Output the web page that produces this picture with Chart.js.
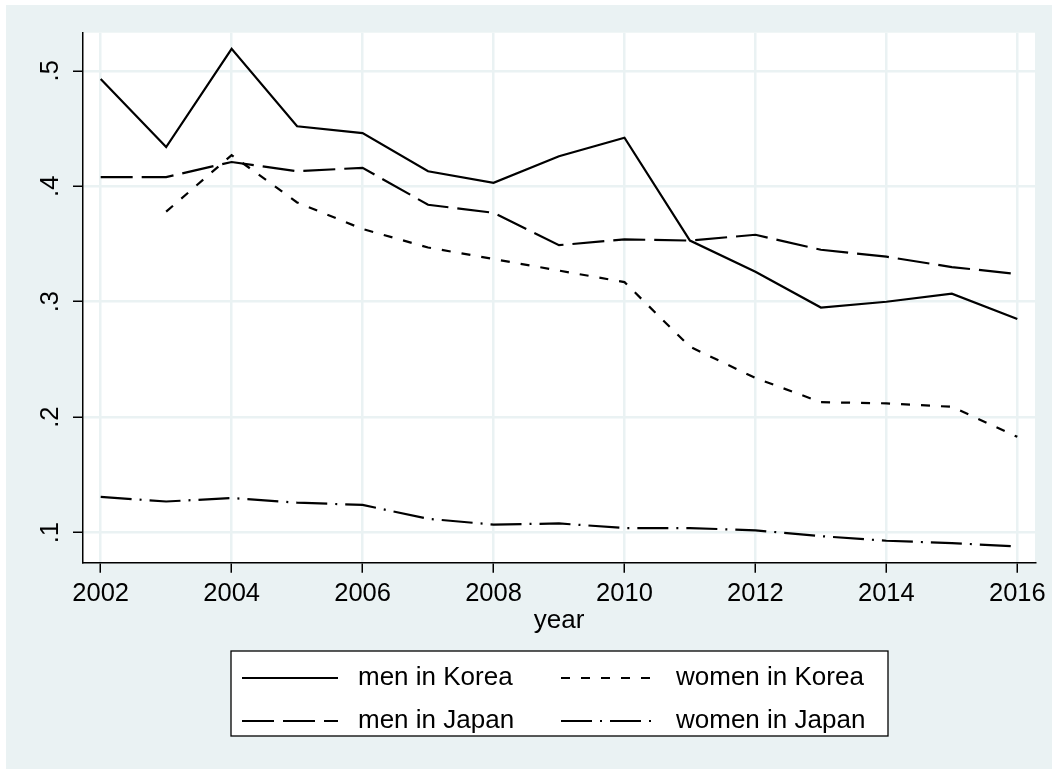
<!DOCTYPE html>
<html>
<head>
<meta charset="utf-8">
<script src="https://cdn.jsdelivr.net/npm/chart.js@4"></script>
<style>
  html, body { margin: 0; padding: 0; background: #fff; }
  canvas { display: block; }
</style>
</head>
<body>
<canvas id="chart" width="1052" height="769"></canvas>
<script>
// Share of workers, by year
const years = [2002, 2003, 2004, 2005, 2006, 2007, 2008, 2009, 2010, 2011, 2012, 2013, 2014, 2015, 2016];
const menKorea   = [0.493, 0.434, 0.519, 0.452, 0.446, 0.413, 0.403, 0.426, 0.442, 0.353, 0.326, 0.295, 0.300, 0.307, 0.285];
const womenKorea = [null,  0.378, 0.427, 0.386, 0.363, 0.347, 0.337, 0.327, 0.317, 0.261, 0.234, 0.213, 0.212, 0.209, 0.183];
const menJapan   = [0.408, 0.408, 0.421, 0.413, 0.416, 0.384, 0.377, 0.349, 0.354, 0.353, 0.358, 0.345, 0.339, 0.330, 0.324];
const womenJapan = [0.131, 0.127, 0.130, 0.126, 0.124, 0.112, 0.107, 0.108, 0.104, 0.104, 0.102, 0.097, 0.093, 0.091, 0.088];

const xTicks = [2002, 2004, 2006, 2008, 2010, 2012, 2014, 2016];
const yTicks = [0.1, 0.2, 0.3, 0.4, 0.5];
const yTickLabels = ['.1', '.2', '.3', '.4', '.5'];

const FONT = '"Liberation Sans", Arial, Helvetica, sans-serif';
const BG = '#eaf2f3';

const toPoints = arr => years.map((yr, i) => ({ x: yr, y: arr[i] }));

function series(label, arr, dash) {
    return {
        label: label,
        data: toPoints(arr),
        borderColor: '#000',
        borderWidth: 2.2,
        borderDash: dash,
        borderCapStyle: 'butt',
        pointRadius: 0,
        fill: false,
        tension: 0
    };
}

// graph region + white plot region behind everything
const backdrop = {
    id: 'backdrop',
    beforeDraw(chart) {
        const { ctx, chartArea } = chart;
        ctx.save();
        ctx.fillStyle = '#fff';
        ctx.fillRect(0, 0, chart.width, chart.height);
        ctx.fillStyle = BG;
        ctx.fillRect(6, 5, chart.width - 6, chart.height - 5);
        ctx.fillStyle = '#fff';
        ctx.fillRect(chartArea.left, chartArea.top, chartArea.right - chartArea.left, chartArea.bottom - chartArea.top);
        ctx.restore();
    }
};

// two-column boxed key under the axis title
const key = {
    id: 'key',
    afterDraw(chart) {
        const ctx = chart.ctx;
        const sets = chart.data.datasets;
        const cols = [{ x0: 242, x1: 338, tx: 358 }, { x0: 561, x1: 655, tx: 676 }];
        const rows = [678, 721];
        ctx.save();
        ctx.fillStyle = '#fff';
        ctx.fillRect(231, 651, 657, 85);
        ctx.strokeStyle = '#000';
        ctx.lineWidth = 1.3;
        ctx.strokeRect(231, 651, 657, 85);
        ctx.font = '26px ' + FONT;
        ctx.textBaseline = 'middle';
        ctx.textAlign = 'left';
        sets.forEach((ds, i) => {
            const c = cols[i % 2];
            const y = rows[Math.floor(i / 2)];
            ctx.beginPath();
            ctx.setLineDash(ds.borderDash || []);
            ctx.lineWidth = ds.borderWidth;
            ctx.strokeStyle = ds.borderColor;
            ctx.moveTo(c.x0, y);
            ctx.lineTo(c.x1, y);
            ctx.stroke();
            ctx.setLineDash([]);
            ctx.fillStyle = '#000';
            ctx.fillText(ds.label, c.tx, y);
        });
        ctx.restore();
    }
};

const ctx = document.getElementById('chart').getContext('2d');
new Chart(ctx, {
    type: 'line',
    data: {
        datasets: [
            series('men in Korea', menKorea, []),
            series('women in Korea', womenKorea, [9, 11]),
            series('men in Japan', menJapan, [32, 9]),
            series('women in Japan', womenJapan, [31, 8, 2, 8])
        ]
    },
    options: {
        responsive: false,
        animation: false,
        devicePixelRatio: 1,
        layout: { padding: { left: 0, top: 32.7, right: 17, bottom: 126.3 } },
        plugins: {
            legend: { display: false },
            tooltip: { enabled: false }
        },
        scales: {
            x: {
                type: 'linear',
                position: 'bottom',
                min: 2001.73,
                max: 2016.27,
                afterBuildTicks: s => { s.ticks = xTicks.map(v => ({ value: v })); },
                afterFit: s => { s.height = 80; },
                ticks: {
                    color: '#000',
                    font: { family: FONT, size: 25.5 },
                    padding: 6,
                    maxRotation: 0,
                    autoSkip: false,
                    callback: v => String(v)
                },
                grid: { color: BG, lineWidth: 2.5, tickColor: '#000', tickWidth: 1.5, tickLength: 10 },
                border: { color: '#000', width: 1.5 },
                title: {
                    display: true,
                    text: 'year',
                    color: '#000',
                    font: { family: FONT, size: 26 },
                    padding: { top: 0, bottom: 6 }
                }
            },
            y: {
                type: 'linear',
                position: 'left',
                min: 0.074,
                max: 0.533,
                afterBuildTicks: s => { s.ticks = yTicks.map(v => ({ value: v })); },
                afterFit: s => { s.width = 83; },
                ticks: {
                    color: '#000',
                    font: { family: FONT, size: 25.5 },
                    padding: 11,
                    minRotation: 90,
                    maxRotation: 90,
                    crossAlign: 'center',
                    autoSkip: false,
                    callback: v => yTickLabels[yTicks.findIndex(t => Math.abs(t - v) < 1e-9)]
                },
                grid: { color: BG, lineWidth: 2.5, tickColor: '#000', tickWidth: 1.5, tickLength: 10 },
                border: { color: '#000', width: 1.5 }
            }
        }
    },
    plugins: [backdrop, key]
});
</script>
</body>
</html>
